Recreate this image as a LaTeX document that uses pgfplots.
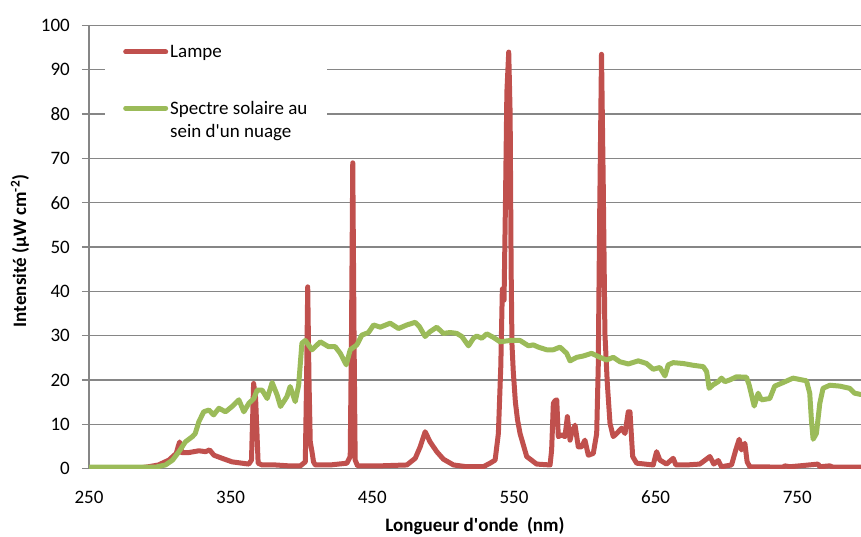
\documentclass[border=0pt]{standalone}
\usepackage{fontspec}
\setmainfont{Carlito}
\usepackage{pgfplots}
\pgfplotsset{compat=1.18}

\definecolor{lampe}{RGB}{192,80,77}
\definecolor{soleil}{RGB}{155,187,89}
\definecolor{axisgray}{RGB}{134,134,134}

\begin{document}
\begin{tikzpicture}
\path[use as bounding box] (0pt,0pt) rectangle (861pt,536pt);
\begin{axis}[
    scale only axis,
    width=772pt, height=443pt,
    at={(89pt,67.5pt)}, anchor=south west,
    xmin=250, xmax=795, ymin=0, ymax=100,
    xtick={250,350,...,750},
    ytick={0,10,...,100},
    axis x line*=bottom, axis y line*=left,
    axis line style={draw=axisgray, line width=1.2pt},
    ymajorgrids,
    grid style={draw=axisgray, line width=1.2pt},
    tick align=outside,
    major tick length=7pt,
    x tick style={draw=none},
    y tick style={draw=axisgray, line width=1.2pt},
    tick label style={font=\fontsize{19}{22}\selectfont},
    /pgf/number format/assume math mode=true,
    xticklabel style={anchor=center, yshift=-21.5pt},
    yticklabel style={anchor=east, inner sep=0pt, xshift=-12pt},
    xlabel={\bfseries Longueur d\textquotesingle onde\ \ (nm)},
    ylabel={\bfseries Intensité (µW cm\textsuperscript{-2})},
    label style={font=\fontsize{19}{22}\selectfont},
    xlabel style={at={(axis description cs:0.5,0)}, anchor=center, yshift=-57.5pt},
    ylabel style={at={(axis description cs:0,0.5)}, anchor=center, yshift=69pt, xshift=-4pt},
    legend style={at={(0.0207,0.99)}, anchor=north west, draw=none, fill=white,
        font=\fontsize{19}{23}\selectfont, inner xsep=18pt, inner ysep=13pt,
        row sep=38pt, cells={anchor=west, align=left, inner sep=1pt}},
    legend image code/.code={\draw[#1] (0pt,0pt) -- (40pt,0pt);},
    every axis plot/.append style={line width=5pt, line join=round, line cap=round},
]
\addplot[color=lampe] coordinates {
(250,0.1)(285,0.1)(292,0.4)(299,0.8)(306.4,1.9)(311.6,3.4)(313,5)(314,6)(315.5,3.6)
(320.5,3.6)(327.6,4)(332.3,3.8)(335.1,4.2)(338.2,3)(344,2.3)(351,1.5)(358,1.2)(362.8,1)
(364.7,1.9)(366.2,19.2)(367.6,16)(369.4,1.2)(372.2,0.8)(381.6,0.8)(391,0.6)(399.2,0.6)
(402.7,1.5)(403.6,20)(404.4,41)(405.3,20)(406.2,6)(407.4,3.8)(408.5,1.5)(409.7,0.8)
(420.3,0.8)(432.1,1.2)(434.4,2.7)(435.3,30)(436.2,69)(437.1,30)(437.9,1.9)(439.6,0.6)
(455.6,0.6)(474.4,0.8)(480.3,2.3)(483.8,4.9)(487.3,8.3)(490.8,6)(495.5,3.8)(500.2,2.1)
(507.3,0.8)(516.7,0.4)(528.4,0.4)(533.1,1.2)(536.7,1.9)(539,7.9)(540.7,23)(541.8,40.5)
(543,38)(544,60)(545,85)(546.3,94)(547.3,80)(548,45)(548.6,28)(549.5,22)(551,15)
(552.5,11)(554.3,7.9)(559,2.7)(566,1)(575.5,0.8)(576.6,4.2)(577.8,14.7)(579,15.3)
(580.2,15.5)(581.3,7.2)(583.7,7.6)(586,7.2)(587.7,11.7)(589.6,6.4)(590.7,7.9)(593.1,9.8)
(595.4,4.9)(597.8,4.9)(600.1,6.4)(602.5,3)(606,3.4)(608.4,7.9)(609.5,23)(610.6,60)
(611.8,93.5)(613,65)(614.2,30.5)(615.9,19.2)(617.8,10.2)(620.1,7.2)(622.5,7.9)(626,9.1)
(628.4,7.9)(630.7,12.8)(631.9,12.8)(633.8,2.7)(636.6,1.2)(648.3,0.8)(650.7,3.8)(653,1.9)
(657.7,1)(662.4,2.3)(664.3,0.8)(671.8,0.8)(681.2,1)(688.3,2.7)(691.1,1)(694.2,1.8)
(696.5,0.4)(703.6,0.8)(706.6,4.2)(709,6.6)(710.6,4.2)(713,5.7)(714.6,1.5)(716.5,0.4)
(740,0.3)(741.2,0.6)(744.7,0.4)(751.8,0.6)(764.7,1)(765.9,0.4)(772.9,0.6)(775.3,0.3)
(795,0.3)
};
\addlegendentry{Lampe}
\addplot[color=soleil, legend image post style={yshift=11.5pt}] coordinates {
(250,0.3)(297,0.3)(304,0.8)(309,1.9)(313.5,3.8)(318,6)(323,7.2)(325,7.9)(327.6,10.6)
(331,12.8)(334.6,13.2)(338,12.1)(341.7,13.6)(346.4,12.8)(351,14)(355.8,15.5)(359.3,12.8)
(362.8,14.7)(366.4,15.8)(368.7,17.7)(372.2,17.7)(375.8,15.8)(379.3,19.4)(382.8,16.6)
(385.2,14)(389.7,16.2)(392,18.5)(395.6,15.1)(398,18.8)(400.3,28.3)(402.7,28.9)(407.4,26.8)
(413.3,28.6)(419.1,27.5)(423.8,27.5)(427.4,26)(431.6,23.4)(434.4,26.8)(439.1,27.9)
(442.6,30.1)(447.3,30.7)(450.9,32.4)(455.6,31.9)(462.6,32.8)(468.5,31.6)(474.4,32.4)
(480.3,33)(483.3,32)(487.3,29.8)(490.8,30.9)(495.5,31.9)(500.2,30.5)(505,30.7)(509.6,30.5)
(513.2,29.8)(517.9,27.7)(521.4,29.4)(523.7,29.9)(527.3,29.4)(530.8,30.4)(535.5,29.6)
(540.2,28.6)(547.2,28.9)(554.3,28.9)(560.2,27.7)(563.7,27.9)(567.2,27.4)(573.1,26.8)
(577.8,26.8)(582.5,27.4)(587.2,26)(589.6,24.3)(594.3,25.1)(599,25.4)(604.8,26)(610.7,25.1)
(615.4,24.5)(620.1,25.1)(624.8,24.1)(630.7,23.6)(637.8,24.3)(643.6,23.7)(648.3,22.4)
(653,22.8)(656.6,20.9)(658.9,23.4)(662.4,23.9)(669.5,23.7)(676.5,23.3)(683.6,23)(686,21.9)
(687.8,18.1)(690.6,18.9)(694.2,19.6)(696.5,20.4)(698.9,19.6)(702.4,20)(707.1,20.7)
(714.1,20.6)(716,18.9)(719.6,14.1)(722.4,17)(724.7,15.5)(730.6,15.8)(734.1,18.6)(740,19.4)
(747,20.4)(756.5,19.8)(758.8,17)(760,10.9)(761.2,6.6)(763.5,7.9)(765.9,14.7)(768.2,18.1)
(773,18.8)(780,18.6)(787,18.1)(790.5,17)(795,16.7)
};
\addlegendentry{Spectre solaire au\\sein d\textquotesingle un nuage}
\end{axis}
\end{tikzpicture}
\end{document}
